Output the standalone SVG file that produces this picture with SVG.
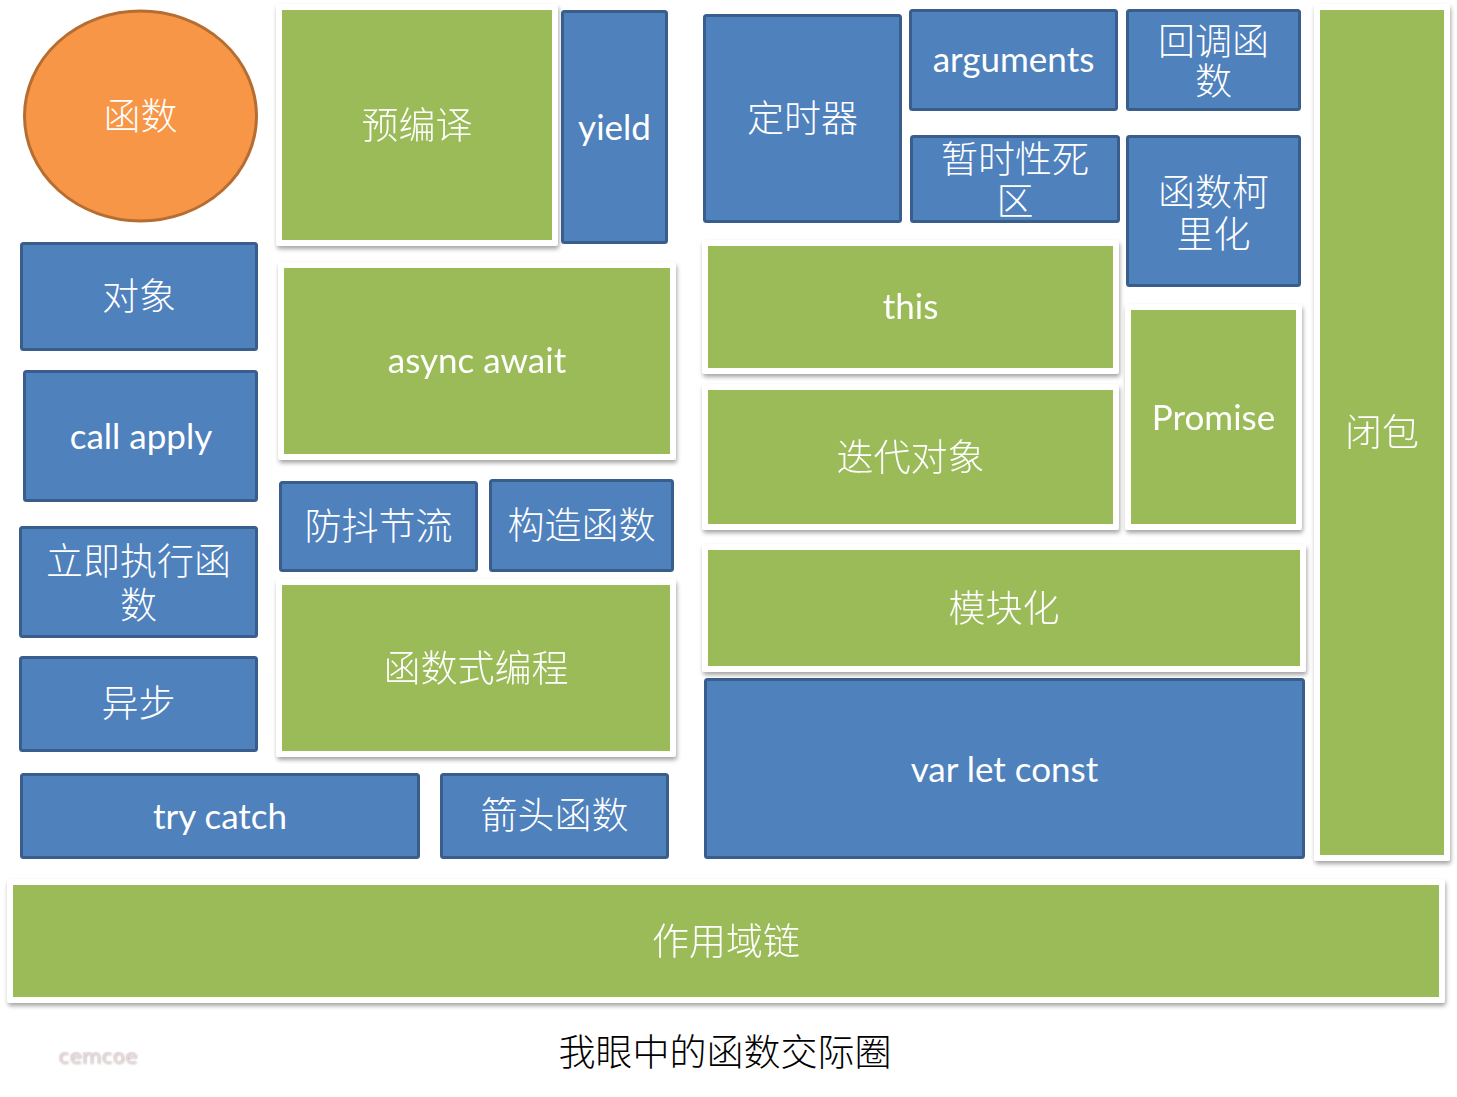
<svg xmlns="http://www.w3.org/2000/svg" width="1457" height="1097" viewBox="0 0 1457 1097">
<style>
.blue{fill:#4F81BD;stroke:#3A5E8C;stroke-width:3}
.frame{fill:#FFFFFF}
.green{fill:#9BBB59}
.cjk{font-family:"Noto Sans CJK SC","Noto Sans",sans-serif;font-size:37px;font-weight:300;fill:#FFFFFF;text-anchor:middle}
.lat{font-family:Lato,"Open Sans",sans-serif;font-size:35px;fill:#FFFFFF;text-anchor:middle}
.title{font-family:"Noto Sans CJK SC",sans-serif;font-size:37px;font-weight:300;fill:#000000;text-anchor:middle}
.wm{font-family:"DejaVu Sans",sans-serif;font-size:20px;fill:#E9D6D6}
</style>
<defs>
<filter id="sh" x="-5%" y="-5%" width="110%" height="115%">
<feDropShadow dx="1" dy="3" stdDeviation="2" flood-color="#000000" flood-opacity="0.35"/>
</filter>
<filter id="wmsh" x="-10%" y="-20%" width="120%" height="150%">
<feDropShadow dx="1" dy="1" stdDeviation="0.8" flood-color="#808080" flood-opacity="0.6"/>
</filter>
</defs>
<rect width="1457" height="1097" fill="#FFFFFF"/>
<g id="connectors"/>

<g id="n-hanshu">
<ellipse cx="140.5" cy="116" rx="116" ry="105" fill="#F79646" stroke="#B66D31" stroke-width="3"/>
<text class="cjk" x="140.5" y="130">函数</text>
</g>

<g id="n-yubianyi" filter="url(#sh)">
<rect class="frame" x="276" y="4" width="282" height="242" rx="3"/>
<rect class="green" x="282" y="10" width="270" height="230"/>
<text class="cjk" x="417" y="139">预编译</text>
</g>

<g id="n-yield">
<rect class="blue" x="562.5" y="11.5" width="104" height="231" rx="2"/>
<text class="lat" x="614.5" y="140">yield</text>
</g>

<g id="n-dingshiqi">
<rect class="blue" x="704.5" y="15.5" width="196" height="206" rx="2"/>
<text class="cjk" x="802.5" y="132">定时器</text>
</g>

<g id="n-arguments">
<rect class="blue" x="910.5" y="10.5" width="206" height="99" rx="2"/>
<text class="lat" x="1013.5" y="72">arguments</text>
</g>

<g id="n-huidiao">
<rect class="blue" x="1127.5" y="10.5" width="172" height="99" rx="2"/>
<text class="cjk" x="1213.5" y="55"><tspan x="1213.5" y="55">回调函</tspan><tspan x="1213.5" y="95">数</tspan></text>
</g>

<g id="n-zanshi">
<rect class="blue" x="911.5" y="136.5" width="207" height="85" rx="2"/>
<text class="cjk" x="1015" y="173"><tspan x="1015" y="173">暂时性死</tspan><tspan x="1015" y="215">区</tspan></text>
</g>

<g id="n-kelihua">
<rect class="blue" x="1127.5" y="136.5" width="172" height="149" rx="2"/>
<text class="cjk" x="1213.5" y="206"><tspan x="1213.5" y="206">函数柯</tspan><tspan x="1213.5" y="248">里化</tspan></text>
</g>

<g id="n-bibao" filter="url(#sh)">
<rect class="frame" x="1314" y="4" width="136" height="857" rx="3"/>
<rect class="green" x="1320" y="10" width="124" height="845"/>
<text class="cjk" x="1382" y="446">闭包</text>
</g>

<g id="n-duixiang">
<rect class="blue" x="21.5" y="243.5" width="235" height="106" rx="2"/>
<text class="cjk" x="139" y="310">对象</text>
</g>

<g id="n-asyncawait" filter="url(#sh)">
<rect class="frame" x="278" y="262" width="398" height="198" rx="3"/>
<rect class="green" x="284" y="268" width="386" height="186"/>
<text class="lat" x="477" y="373">async await</text>
</g>

<g id="n-this" filter="url(#sh)">
<rect class="frame" x="702" y="240" width="417" height="134" rx="3"/>
<rect class="green" x="708" y="246" width="405" height="122"/>
<text class="lat" x="910.5" y="319">this</text>
</g>

<g id="n-callapply">
<rect class="blue" x="24.5" y="371.5" width="232" height="129" rx="2"/>
<text class="lat" x="141" y="449">call apply</text>
</g>

<g id="n-diedai" filter="url(#sh)">
<rect class="frame" x="702" y="384" width="417" height="146" rx="3"/>
<rect class="green" x="708" y="390" width="405" height="134"/>
<text class="cjk" x="910.5" y="471">迭代对象</text>
</g>

<g id="n-promise" filter="url(#sh)">
<rect class="frame" x="1125" y="304" width="177" height="226" rx="3"/>
<rect class="green" x="1131" y="310" width="165" height="214"/>
<text class="lat" x="1213.5" y="430">Promise</text>
</g>

<g id="n-fangdou">
<rect class="blue" x="280.5" y="482.5" width="196" height="88" rx="2"/>
<text class="cjk" x="378.5" y="540">防抖节流</text>
</g>

<g id="n-gouzao">
<rect class="blue" x="490.5" y="480.5" width="182" height="90" rx="2"/>
<text class="cjk" x="581.5" y="539">构造函数</text>
</g>

<g id="n-lijizhixing">
<rect class="blue" x="20.5" y="527.5" width="236" height="109" rx="2"/>
<text class="cjk" x="138.5" y="575"><tspan x="138.5" y="575">立即执行函</tspan><tspan x="138.5" y="619">数</tspan></text>
</g>

<g id="n-mokuaihua" filter="url(#sh)">
<rect class="frame" x="702" y="544" width="604" height="128" rx="3"/>
<rect class="green" x="708" y="550" width="592" height="116"/>
<text class="cjk" x="1004" y="622">模块化</text>
</g>

<g id="n-hanshushi" filter="url(#sh)">
<rect class="frame" x="276" y="579" width="400" height="178" rx="3"/>
<rect class="green" x="282" y="585" width="388" height="166"/>
<text class="cjk" x="476" y="682">函数式编程</text>
</g>

<g id="n-yibu">
<rect class="blue" x="20.5" y="657.5" width="236" height="93" rx="2"/>
<text class="cjk" x="138.5" y="717">异步</text>
</g>

<g id="n-varletconst">
<rect class="blue" x="705.5" y="679.5" width="598" height="178" rx="2"/>
<text class="lat" x="1004.5" y="782">var let const</text>
</g>

<g id="n-trycatch">
<rect class="blue" x="21.5" y="774.5" width="397" height="83" rx="2"/>
<text class="lat" x="220" y="829">try catch</text>
</g>

<g id="n-jiantou">
<rect class="blue" x="441.5" y="774.5" width="226" height="83" rx="2"/>
<text class="cjk" x="554.5" y="829">箭头函数</text>
</g>

<g id="n-zuoyongyu" filter="url(#sh)">
<rect class="frame" x="7" y="879" width="1438" height="124" rx="3"/>
<rect class="green" x="13" y="885" width="1426" height="112"/>
<text class="cjk" x="726" y="955">作用域链</text>
</g>

<text class="wm" x="58" y="1063" textLength="79" filter="url(#wmsh)">cemcoe</text>
<text class="title" x="725" y="1066">我眼中的函数交际圈</text>
</svg>
